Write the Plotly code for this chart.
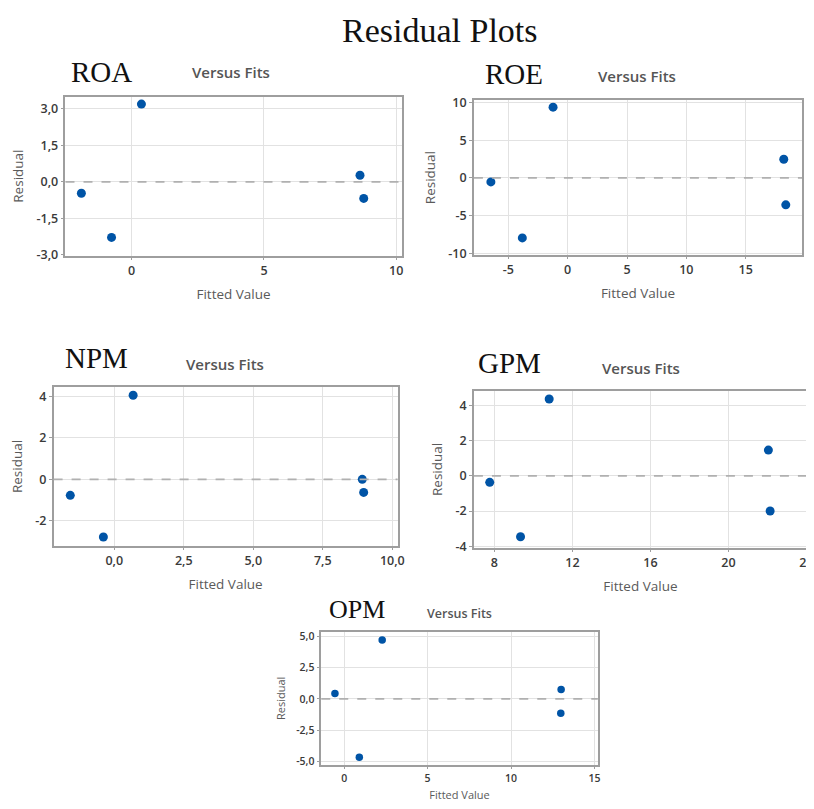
import plotly.graph_objects as go

# The page body keeps its default 8px margin, so the figure is drawn 8px
# smaller and every reference pixel position is shifted by OFF.
OFF = 8
W, H = 814 - OFF, 809 - OFF

# ---- data ----
panels = ["ROA", "ROE", "NPM", "GPM", "OPM"]

roa_fit = [-1.90, -0.76, 0.37, 8.63, 8.77]
roa_res = [-0.47, -2.28, 3.19, 0.27, -0.68]

roe_fit = [-6.47, -3.82, -1.23, 18.21, 18.38]
roe_res = [-0.52, -7.97, 9.41, 2.48, -3.57]

npm_fit = [-1.58, -0.39, 0.68, 8.92, 8.97]
npm_res = [-0.77, -2.78, 4.05, 0.0, -0.63]

gpm_fit = [7.76, 9.34, 10.81, 22.05, 22.14]
gpm_res = [-0.37, -3.46, 4.36, 1.46, -2.00]

opm_fit = [-0.55, 0.91, 2.28, 13.0, 12.98]
opm_res = [0.44, -4.66, 4.72, 0.75, -1.14]

roa_xt = [0, 5, 10];            roa_xl = ["0", "5", "10"]
roa_yt = [-3, -1.5, 0, 1.5, 3]; roa_yl = ["-3,0", "-1,5", "0,0", "1,5", "3,0"]
roe_xt = [-5, 0, 5, 10, 15];    roe_xl = ["-5", "0", "5", "10", "15"]
roe_yt = [-10, -5, 0, 5, 10];   roe_yl = ["-10", "-5", "0", "5", "10"]
npm_xt = [0, 2.5, 5, 7.5, 10];  npm_xl = ["0,0", "2,5", "5,0", "7,5", "10,0"]
npm_yt = [-2, 0, 2, 4];         npm_yl = ["-2", "0", "2", "4"]
gpm_xt = [8, 12, 16, 20, 24];   gpm_xl = ["8", "12", "16", "20", "24"]
gpm_yt = [-4, -2, 0, 2, 4];     gpm_yl = ["-4", "-2", "0", "2", "4"]
opm_xt = [0, 5, 10, 15];        opm_xl = ["0", "5", "10", "15"]
opm_yt = [-5, -2.5, 0, 2.5, 5]; opm_yl = ["-5,0", "-2,5", "0,0", "2,5", "5,0"]

series = [
    (roa_fit, roa_res, roa_xt, roa_xl, roa_yt, roa_yl),
    (roe_fit, roe_res, roe_xt, roe_xl, roe_yt, roe_yl),
    (npm_fit, npm_res, npm_xt, npm_xl, npm_yt, npm_yl),
    (gpm_fit, gpm_res, gpm_xt, gpm_xl, gpm_yt, gpm_yl),
    (opm_fit, opm_res, opm_xt, opm_xl, opm_yt, opm_yl),
]

# ---- layout, in reference-screen pixels (x0, x1, y0 top, y1 bottom) ----
boxes = [
    (66, 405, 92, 254),
    (478, 809, 96, 253),
    (54, 401, 388, 549),
    (478, 814, 392, 551),
    (324, 603, 637, 772),
]
xranges = [[-2.5, 10.2], [-7.9, 19.75], [-2.18, 10.19], [6.95, 24.03], [-1.37, 15.2]]
yranges = [[-3.03, 3.5], [-10.2, 10.3], [-3.19, 4.43], [-4.07, 4.8], [-5.26, 5.36]]
label_pos = [(102, 67), (518, 69), (97, 358), (514, 363), (360, 614)]
label_size = [29, 29, 29, 29, 26]
vf_pos = [(233, 67), (643, 71), (227, 364), (647, 368), (463, 618)]
vf_size = [15, 15, 15, 15, 12.5]
tick_size = [12.5, 12.5, 12.5, 12.5, 10.5]
title_size = [13.5, 13.5, 13.5, 13.5, 11]
marker_size = [9, 9, 9, 9, 7.5]
x_standoff = [11, 11, 11, 11, 7]
y_standoff = [10, 10, 10, 10, 8]


def px(x):
    return (x - OFF) / W


def py(y):
    return 1 - (y - OFF) / H


SANS = "Open Sans, Noto Sans, sans-serif"
SERIF = "Liberation Serif, Times New Roman, serif"
FRAME = "#9e9e9e"
GRID = "#e2e2e2"
BLUE = "#0054a6"

fig = go.Figure()
layout = dict(
    width=W, height=H, margin=dict(l=0, r=0, t=0, b=0),
    paper_bgcolor="white", plot_bgcolor="white", showlegend=False,
)
annotations = []
shapes = []

for i, (fx, ry, xt, xl, yt, yl) in enumerate(series):
    n = "" if i == 0 else str(i + 1)
    x0, x1, y0, y1 = boxes[i]
    fig.add_trace(go.Scatter(
        x=fx, y=ry, mode="markers", xaxis="x" + n, yaxis="y" + n,
        marker=dict(size=marker_size[i], color=BLUE), hoverinfo="x+y",
    ))
    common = dict(
        showline=True, linecolor=FRAME, linewidth=1.5, mirror=True,
        showgrid=True, gridcolor=GRID, gridwidth=1.2, zeroline=False,
        ticks="outside", ticklen=3, tickcolor=FRAME,
        tickfont=dict(family=SANS, size=tick_size[i], color="#3a3a3a", weight=600),
    )
    tfont = dict(family=SANS, size=title_size[i], color="#5a5a5a", weight=500)
    layout["xaxis" + n] = dict(
        common, domain=[px(x0), min(px(x1), 1.0)], anchor="y" + n, range=xranges[i],
        tickmode="array", tickvals=xt, ticktext=xl,
        title=dict(text="Fitted Value", standoff=x_standoff[i], font=tfont),
    )
    layout["yaxis" + n] = dict(
        common, domain=[py(y1), py(y0)], anchor="x" + n, range=yranges[i],
        tickmode="array", tickvals=yt, ticktext=yl,
        title=dict(text="Residual", standoff=y_standoff[i], font=tfont),
    )
    shapes.append(dict(
        type="line", xref="x" + n + " domain", yref="y" + n, x0=0, x1=1, y0=0, y1=0,
        line=dict(color="#b0b0b0", width=1.8, dash="dash"), layer="above",
    ))
    lx, ly = label_pos[i]
    annotations.append(dict(
        text=panels[i], x=px(lx), y=py(ly), xref="paper", yref="paper",
        xanchor="center", yanchor="middle", showarrow=False,
        font=dict(family=SERIF, size=label_size[i], color="#111111"),
    ))
    vx, vy = vf_pos[i]
    annotations.append(dict(
        text="Versus Fits", x=px(vx), y=py(vy), xref="paper", yref="paper",
        xanchor="center", yanchor="middle", showarrow=False,
        font=dict(family=SANS, size=vf_size[i], color="#555555", weight=600),
    ))

annotations.append(dict(
    text="Residual Plots", x=px(444), y=py(25), xref="paper", yref="paper",
    xanchor="center", yanchor="middle", showarrow=False,
    font=dict(family=SERIF, size=34, color="#111111"),
))

layout["annotations"] = annotations
layout["shapes"] = shapes
fig.update_layout(**layout)
fig.write_html("out.html", config={"displayModeBar": False})
